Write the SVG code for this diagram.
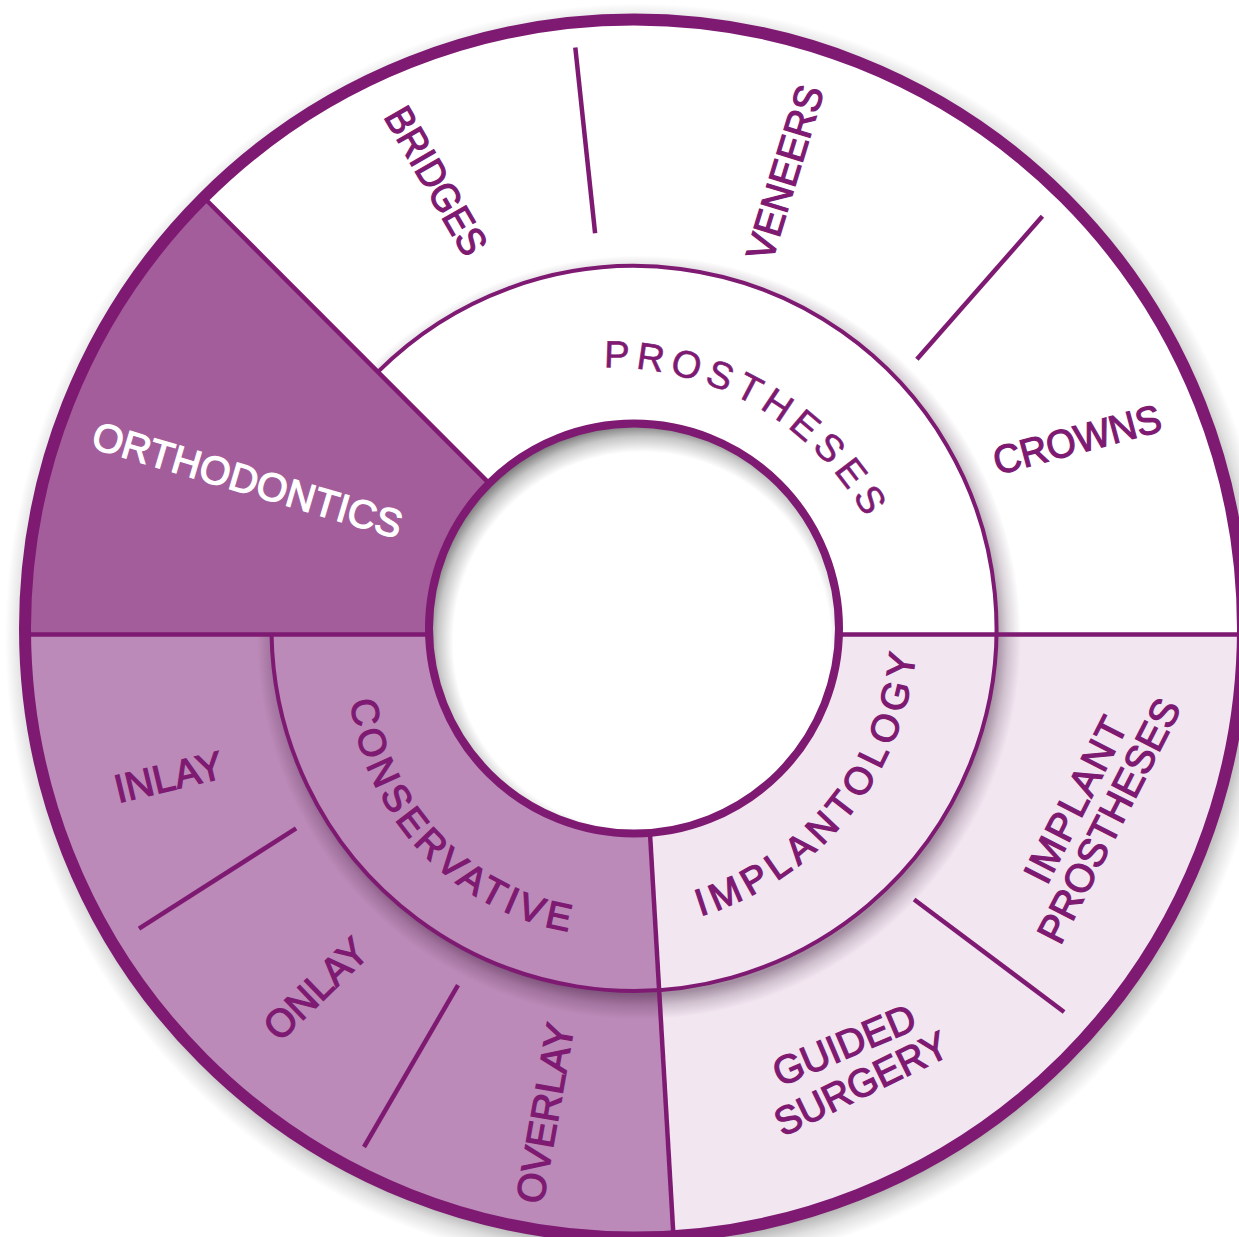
<svg xmlns="http://www.w3.org/2000/svg" width="1239" height="1237" viewBox="0 0 1239 1237">
<defs>
<style>
.lbl{font-family:"Liberation Sans",Arial,Helvetica,sans-serif;font-size:39.5px;fill:#7e1a72;stroke:#7e1a72;stroke-width:1.3px;text-anchor:middle}
.arc{font-size:38px}
.wht{fill:#fff;stroke:#fff}
.reg{stroke-width:0.6px}
.div{stroke:#7e1a72;stroke-width:4.5;fill:none}
.edge{fill:none;stroke:#7e1a72}
</style>
<clipPath id="clipOuter"><circle cx="634" cy="628.5" r="609"/></clipPath>
<clipPath id="clipMid"><path d="M640,634.5 L377.9,371.9 A362.5,362.5 0 1 1 271.55,634.5 Z"/></clipPath>
<clipPath id="clipNoOrtho"><polygon points="640,634.5 -10,-17.8 1300,-17.8 1300,1300 -10,1300 -10,634.5"/></clipPath>
<radialGradient id="gWheelShadow" gradientUnits="userSpaceOnUse" cx="639" cy="637.5" r="634">
  <stop offset="0" stop-color="#000" stop-opacity="0.3"/>
  <stop offset="0.952" stop-color="#000" stop-opacity="0.3"/>
  <stop offset="0.975" stop-color="#000" stop-opacity="0.12"/>
  <stop offset="1" stop-color="#000" stop-opacity="0"/>
</radialGradient>
<radialGradient id="gMidShadow" gradientUnits="userSpaceOnUse" cx="639" cy="637.5" r="382">
  <stop offset="0" stop-color="#2b0a28" stop-opacity="0.4"/>
  <stop offset="0.935" stop-color="#2b0a28" stop-opacity="0.4"/>
  <stop offset="0.965" stop-color="#2b0a28" stop-opacity="0.17"/>
  <stop offset="1" stop-color="#2b0a28" stop-opacity="0"/>
</radialGradient>
<radialGradient id="gHoleShadow" gradientUnits="userSpaceOnUse" cx="642" cy="641" r="222">
  <stop offset="0" stop-color="#000" stop-opacity="0"/>
  <stop offset="0.85" stop-color="#000" stop-opacity="0"/>
  <stop offset="0.92" stop-color="#000" stop-opacity="0.22"/>
  <stop offset="1" stop-color="#000" stop-opacity="0.65"/>
</radialGradient>
<path id="arcPro" d="M359.5,508 A293.4,293.4 0 0 1 865.7,804.6"/>
<path id="arcCon" d="M426.8,480.2 A266.6,266.6 0 0 0 796.5,864.3"/>
<path id="arcImp" d="M427,864.9 A303.6,303.6 0 0 0 808.2,392.4"/>
</defs>
<rect width="1239" height="1237" fill="#fff"/>

<!-- shadow of the whole wheel -->
<circle id="wheel-shadow" cx="639" cy="637.5" r="634" fill="url(#gWheelShadow)"/>

<!-- outer ring layer -->
<g id="outer-layer" clip-path="url(#clipOuter)">
  <rect width="1239" height="1237" fill="#fff"/>
  <polygon id="fill-orthodontics" points="640,634.5 0,634.5 0,-7.75" fill="#a45d9b"/>
  <polygon id="fill-conservative-outer" points="638.4,634.5 673.7,1240 0,1240 0,634.5" fill="#bc8ab8"/>
  <polygon id="fill-implant-outer" points="638.4,634.5 1240,634.5 1240,1240 673.7,1240" fill="#f2e6f1"/>
</g>

<!-- shadow cast by the inner ring -->
<g clip-path="url(#clipNoOrtho)">
  <circle id="inner-shadow" cx="639" cy="637.5" r="382" fill="url(#gMidShadow)"/>
</g>

<!-- inner ring layer -->
<g id="inner-layer" clip-path="url(#clipMid)">
  <rect width="1239" height="1237" fill="#fff"/>
  <polygon id="fill-conservative" points="638.4,634.5 673.7,1240 0,1240 0,634.5" fill="#bc8ab8"/>
  <polygon id="fill-implantology" points="638.4,634.5 1240,634.5 1240,1240 673.7,1240" fill="#f2e6f1"/>
</g>

<!-- connectors / divider lines -->
<g id="connectors" clip-path="url(#clipOuter)">
  <line class="div" x1="640" y1="634.5" x2="203.8" y2="197.5"/>
  <line class="div" x1="0" y1="634.5" x2="640" y2="634.5"/>
  <line class="div" x1="638" y1="634.5" x2="1245" y2="634.5"/>
  <line class="div" x1="638.4" y1="634.5" x2="673.7" y2="1240"/>
  <path class="edge" stroke-width="4" d="M377.9,371.9 A362.5,362.5 0 1 1 271.55,634.5"/>
  <line class="div" x1="575.3" y1="47.4" x2="595.1" y2="233.3"/>
  <line class="div" x1="1042.4" y1="216.3" x2="916.9" y2="359.3"/>
  <line class="div" x1="914.1" y1="899.5" x2="1064.1" y2="1012"/>
  <line class="div" x1="296.1" y1="828.4" x2="139" y2="928.7"/>
  <line class="div" x1="458" y1="985.2" x2="364" y2="1147"/>
</g>

<!-- centre hole -->
<g id="hole">
  <circle cx="634" cy="628.5" r="205" fill="#fff"/>
  <circle cx="634" cy="628.5" r="205" fill="url(#gHoleShadow)"/>
  <circle class="edge" cx="634" cy="628.5" r="205" stroke-width="8"/>
</g>

<circle id="outer-edge" class="edge" cx="634" cy="628.5" r="609" stroke-width="12"/>

<!-- nodes / labels -->
<g id="node-orthodontics">
  <text class="lbl wht" font-size="38" transform="translate(247.5,480) rotate(16.5)" y="13.6" textLength="321" lengthAdjust="spacing">ORTHODONTICS</text>
</g>
<g id="node-prostheses">
  <text class="lbl arc reg" letter-spacing="6.3"><textPath href="#arcPro" startOffset="50%">PROSTHESES</textPath></text>
  <g id="node-bridges"><text class="lbl" transform="translate(436.5,180.5) rotate(60)" y="14.1" textLength="164" lengthAdjust="spacingAndGlyphs">BRIDGES</text></g>
  <g id="node-veneers"><text class="lbl" transform="translate(784.5,172.5) rotate(-73)" y="14.1" textLength="180" lengthAdjust="spacingAndGlyphs">VENEERS</text></g>
  <g id="node-crowns"><text class="lbl" transform="translate(1077,439) rotate(-15)" y="14.1" textLength="172" lengthAdjust="spacingAndGlyphs">CROWNS</text></g>
</g>
<g id="node-conservative">
  <text class="lbl arc" letter-spacing="4.4"><textPath href="#arcCon" startOffset="50%">CONSERVATIVE</textPath></text>
  <g id="node-inlay"><text class="lbl" transform="translate(168.5,776.5) rotate(-13.5)" y="14.1" textLength="110" lengthAdjust="spacingAndGlyphs">INLAY</text></g>
  <g id="node-onlay"><text class="lbl" transform="translate(315.5,988.5) rotate(-44)" y="14.1" textLength="127" lengthAdjust="spacingAndGlyphs">ONLAY</text></g>
  <g id="node-overlay"><text class="lbl" transform="translate(544.7,1113) rotate(-80)" y="14.1" textLength="182" lengthAdjust="spacingAndGlyphs">OVERLAY</text></g>
</g>
<g id="node-implantology">
  <text class="lbl arc" letter-spacing="5.5"><textPath href="#arcImp" startOffset="50%">IMPLANTOLOGY</textPath></text>
  <g id="node-implant-prostheses">
    <text class="lbl" transform="translate(1075,799.6) rotate(-63)" y="14.1" textLength="180" lengthAdjust="spacing">IMPLANT</text>
    <text class="lbl" transform="translate(1108.5,820.4) rotate(-63)" y="14.1" textLength="268" lengthAdjust="spacingAndGlyphs">PROSTHESES</text>
  </g>
  <g id="node-guided-surgery">
    <text class="lbl" transform="translate(844,1044.5) rotate(-23)" y="14.1" textLength="151" lengthAdjust="spacingAndGlyphs">GUIDED</text>
    <text class="lbl" transform="translate(861,1083) rotate(-26)" y="14.1" textLength="188" lengthAdjust="spacingAndGlyphs">SURGERY</text>
  </g>
</g>
</svg>
